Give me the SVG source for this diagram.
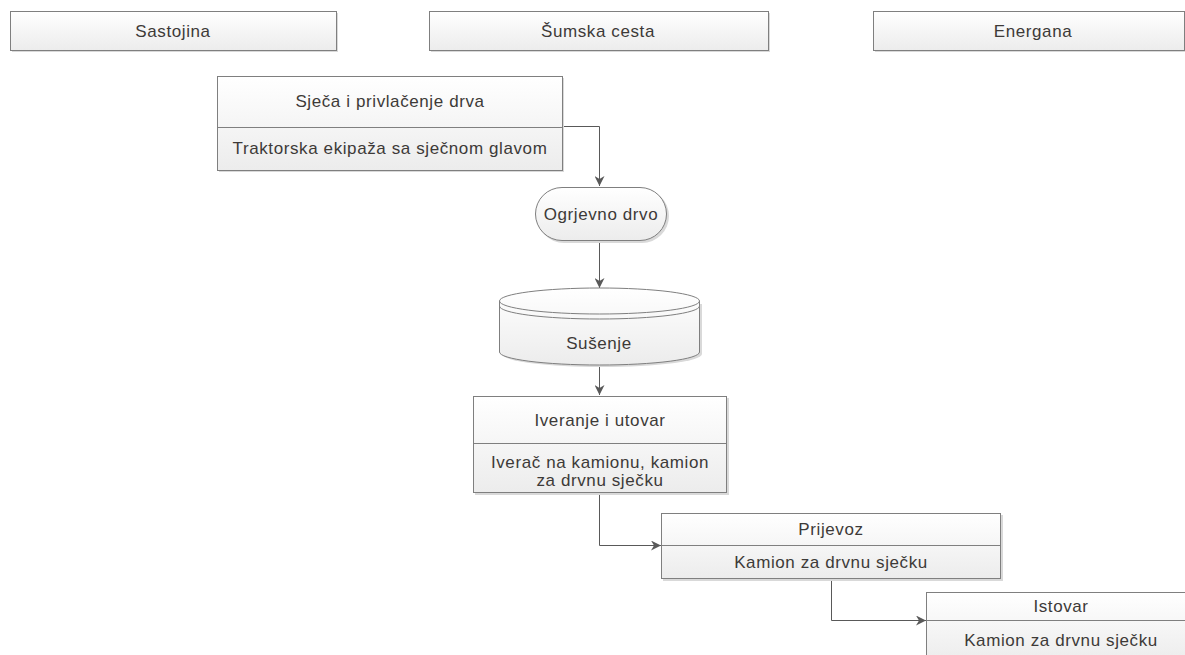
<svg xmlns="http://www.w3.org/2000/svg" width="1185" height="655" viewBox="0 0 1185 655">
<defs>
<linearGradient id="g" x1="0" y1="0" x2="0" y2="1">
<stop offset="0" stop-color="#ffffff"/>
<stop offset="1" stop-color="#ececec"/>
</linearGradient>
<marker id="arr" viewBox="0 0 10 10" refX="10" refY="5" markerWidth="10" markerHeight="10" markerUnits="userSpaceOnUse" orient="auto">
<path d="M0,0 L10,5 L0,10 L3,5 Z" fill="#595959"/>
</marker>
</defs>
<style>
.box{fill:url(#g);stroke:#7f7f7f;stroke-width:1}
.sh{fill:#d9d9d9}
.div{stroke:#7f7f7f;stroke-width:1;fill:none}
.t{font-family:"Liberation Sans",Arial,sans-serif;font-size:17px;letter-spacing:0.6px;fill:#3d3a38;text-anchor:middle}
.c{stroke:#595959;stroke-width:1;fill:none;marker-end:url(#arr)}
</style>
<rect width="1185" height="655" fill="#ffffff"/>

<g id="lane-sastojina">
<rect class="sh" x="12" y="13" width="326" height="39"/>
<rect class="box" x="10.5" y="11.5" width="326" height="39"/>
<text class="t" x="173" y="37">Sastojina</text>
</g>
<g id="lane-sumska-cesta">
<rect class="sh" x="431" y="13" width="339" height="39"/>
<rect class="box" x="429.5" y="11.5" width="339" height="39"/>
<text class="t" x="598" y="37">Šumska cesta</text>
</g>
<g id="lane-energana">
<rect class="sh" x="875" y="13" width="312" height="39"/>
<rect class="box" x="873.5" y="11.5" width="311" height="39"/>
<text class="t" x="1033" y="37">Energana</text>
</g>

<g id="connectors">
<path class="c" d="M562,126.5 H599.5 V186"/>
<path class="c" d="M599.5,241 V288"/>
<path class="c" d="M599.5,366 V395"/>
<path class="c" d="M599.5,493 V545.5 H661"/>
<path class="c" d="M831.5,579 V620.5 H926"/>
</g>

<g id="node-sjeca">
<rect class="sh" x="219" y="78" width="345" height="94"/>
<rect class="box" x="217.5" y="76.5" width="345" height="94"/>
<line class="div" x1="217.5" y1="127.5" x2="562.5" y2="127.5"/>
<text class="t" x="390" y="107">Sječa i privlačenje drva</text>
<text class="t" x="390" y="154">Traktorska ekipaža sa sječnom glavom</text>
</g>

<g id="node-ogrjevno">
<rect class="sh" x="537" y="189" width="132" height="54" rx="27"/>
<rect class="box" x="535.5" y="187.5" width="131" height="53" rx="26.5"/>
<text class="t" x="601" y="220">Ogrjevno drvo</text>
</g>

<g id="node-susenje">
<path class="sh" d="M502,304 V354 A100,13 0 0 0 702,354 V304 Z"/>
<path class="box" d="M499.5,301 V352 A100,13 0 0 0 699.5,352 V301 A100,13 0 0 0 499.5,301 Z"/>
<path class="div" d="M499.5,301 A100,13 0 0 0 699.5,301"/>
<path class="div" d="M499.5,306 A100,13 0 0 0 699.5,306"/>
<text class="t" x="599" y="349">Sušenje</text>
</g>

<g id="node-iveranje">
<rect class="sh" x="475" y="398" width="254" height="97"/>
<rect class="box" x="473.5" y="396.5" width="253" height="96"/>
<line class="div" x1="473.5" y1="443.5" x2="726.5" y2="443.5"/>
<text class="t" x="600" y="426">Iveranje i utovar</text>
<text class="t" x="600" y="468">Iverač na kamionu, kamion</text>
<text class="t" x="600" y="486">za drvnu sječku</text>
</g>

<g id="node-prijevoz">
<rect class="sh" x="663" y="515" width="340" height="66"/>
<rect class="box" x="661.5" y="513.5" width="339" height="65"/>
<line class="div" x1="661.5" y1="545.5" x2="1000.5" y2="545.5"/>
<text class="t" x="831" y="535">Prijevoz</text>
<text class="t" x="831" y="568">Kamion za drvnu sječku</text>
</g>

<g id="node-istovar">
<rect class="sh" x="928" y="594" width="260" height="70"/>
<rect class="box" x="926.5" y="592.5" width="270" height="70"/>
<line class="div" x1="926.5" y1="620.5" x2="1196" y2="620.5"/>
<text class="t" x="1061" y="612">Istovar</text>
<text class="t" x="1061" y="646">Kamion za drvnu sječku</text>
</g>
</svg>
